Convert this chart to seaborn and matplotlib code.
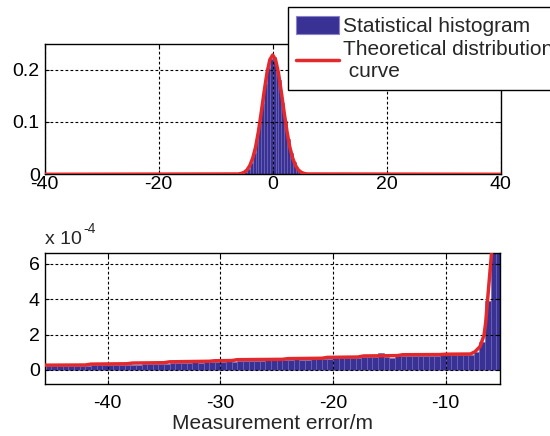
"""Measurement error histogram vs theoretical curve (full range + left tail)."""

import matplotlib

matplotlib.use("Agg")
import matplotlib.pyplot as plt
from matplotlib.lines import Line2D
from matplotlib.patches import Patch
from matplotlib.ticker import FuncFormatter
import numpy as np
import seaborn as sns

BAR_BLUE = "#3a3194"
BAR_EDGE = "#6c64b6"
CURVE_RED = "#e3292b"

# ---------------------------------------------------------------------------
# data
# ---------------------------------------------------------------------------
# top panel: histogram over the central part (bin width 0.5)
top_centers = [-5.75, -5.25, -4.75, -4.25, -3.75, -3.25, -2.75, -2.25,
               -1.75, -1.25, -0.75, -0.25, 0.25, 0.75, 1.25, 1.75,
               2.25, 2.75, 3.25, 3.75, 4.25, 4.75, 5.25, 5.75]
top_density = [0.001, 0.002, 0.005, 0.011, 0.022, 0.040, 0.064, 0.098,
               0.135, 0.172, 0.203, 0.221, 0.224, 0.206, 0.180, 0.136,
               0.101, 0.067, 0.040, 0.023, 0.012, 0.006, 0.002, 0.001]

# top panel: theoretical distribution curve
top_curve_x = [-40, -6, -5.5, -5, -4.5, -4, -3.5, -3, -2.5, -2, -1.5, -1, -0.5,
               0, 0.5, 1, 1.5, 2, 2.5, 3, 3.5, 4, 4.5, 5, 5.5, 6, 40]
top_curve_y = [0.0, 0.0006, 0.0016, 0.0038, 0.0083, 0.017, 0.031, 0.052, 0.082,
               0.119, 0.158, 0.194, 0.219, 0.228, 0.219, 0.194, 0.158, 0.119,
               0.082, 0.052, 0.031, 0.017, 0.0083, 0.0038, 0.0016, 0.0006, 0.0]

# bottom panel: left tail, bin width 0.5, values in units of 1e-4
tail_centers = np.arange(-45.25, -5.0, 0.5)
tail_density_e4 = [
    0.21, 0.22, 0.21, 0.22, 0.23, 0.22, 0.23, 0.22, 0.27, 0.26,
    0.27, 0.28, 0.27, 0.28, 0.29, 0.30, 0.29, 0.33, 0.34, 0.35,
    0.34, 0.36, 0.41, 0.40, 0.42, 0.41, 0.43, 0.42, 0.55, 0.45,
    0.46, 0.45, 0.58, 0.47, 0.50, 0.51, 0.52, 0.51, 0.53, 0.55,
    0.68, 0.56, 0.55, 0.57, 0.70, 0.58, 0.59, 0.60, 0.61, 0.60,
    0.64, 0.65, 0.66, 0.65, 0.67, 0.66, 0.72, 0.73, 0.72, 0.93,
    0.76, 0.70, 0.78, 0.79, 0.80, 0.79, 0.80, 0.81, 0.80, 0.81,
    0.93, 0.82, 0.83, 0.82, 0.84, 0.86, 1.00, 1.60, 3.90, 7.00,
    7.50,
]

# bottom panel: theoretical curve (units of 1e-4)
tail_curve_x = [-45.6, -42.0, -41.5, -38.3, -37.8, -35.0, -34.5, -31.0, -30.5,
                -29.0, -28.5, -24.5, -24.0, -21.0, -20.5, -17.8, -17.3, -14.3,
                -13.8, -10.5, -10.0, -7.8, -7.4, -6.95, -6.6, -6.45, -6.3,
                -6.1, -5.9]
tail_curve_e4 = [0.27, 0.28, 0.33, 0.35, 0.39, 0.41, 0.46, 0.49, 0.52,
                 0.53, 0.58, 0.60, 0.64, 0.66, 0.71, 0.73, 0.79, 0.81,
                 0.86, 0.87, 0.89, 0.90, 1.03, 1.32, 1.95, 2.65, 3.80,
                 5.30, 6.80]

SCALE = 1e-4

W, H = 550, 436


def style_axes(ax, xpad, ypad):
    ax.set_axisbelow(False)
    ax.grid(True, color="black", linestyle=(0, (2.5, 2)), linewidth=0.8)
    ax.tick_params(direction="in", length=3, width=0.8, top=True, right=True,
                   labelsize=14, colors="black")
    ax.tick_params(axis="x", pad=xpad)
    ax.tick_params(axis="y", pad=ypad)
    for sp in ax.spines.values():
        sp.set_visible(True)
        sp.set_color("black")
        sp.set_linewidth(1.0)
    ax.set_xlabel("")
    ax.set_ylabel("")


def main():
    sns.set_theme(style="ticks")
    plt.rcParams["font.family"] = ["Liberation Sans", "DejaVu Sans"]
    plt.rcParams["axes.unicode_minus"] = False

    fig = plt.figure(figsize=(W / 100, H / 100), dpi=100)
    fig.patch.set_facecolor("white")

    # ---------------- top panel ----------------
    ax1 = fig.add_axes([44.7 / W, 1 - 174.3 / H, 456 / W, 130.3 / H])
    sns.histplot(x=top_centers, weights=top_density, binwidth=0.5,
                 binrange=(-6, 6), stat="count", color=BAR_BLUE,
                 edgecolor=BAR_EDGE, linewidth=0.4, alpha=1, ax=ax1)
    sns.lineplot(x=top_curve_x, y=top_curve_y, color=CURVE_RED, linewidth=2.5,
                 ax=ax1, zorder=3)
    ax1.set_xlim(-40, 40)
    ax1.set_ylim(0, 0.249)
    ax1.set_xticks([-40, -20, 0, 20, 40])
    ax1.set_yticks([0, 0.1, 0.2])
    ax1.yaxis.set_major_formatter(FuncFormatter(lambda v, p: f"{v:g}"))
    style_axes(ax1, xpad=1.5, ypad=3.5)

    # ---------------- bottom panel ----------------
    ax2 = fig.add_axes([44.7 / W, 1 - 384.3 / H, 455.6 / W, 131 / H])
    sns.histplot(x=tail_centers, weights=np.array(tail_density_e4) * SCALE,
                 binwidth=0.5, binrange=(-45.5, -5.0), stat="count",
                 color=BAR_BLUE, edgecolor=BAR_EDGE, linewidth=0.4, alpha=1,
                 ax=ax2)
    sns.lineplot(x=tail_curve_x, y=np.array(tail_curve_e4) * SCALE,
                 color=CURVE_RED, linewidth=2.5, ax=ax2, zorder=3)
    ax2.set_xlim(-45.6, -5.15)
    ax2.set_ylim(-0.81 * SCALE, 6.59 * SCALE)
    ax2.set_xticks([-40, -30, -20, -10])
    ax2.set_yticks(np.array([0, 2, 4, 6]) * SCALE)
    ax2.yaxis.set_major_formatter(FuncFormatter(lambda v, p: f"{v / SCALE:.0f}"))
    style_axes(ax2, xpad=8, ypad=3.5)
    ax2.set_xlabel("Measurement error/m", fontsize=15, labelpad=1)

    # exponent label
    fig.text(45 / W, 1 - 244.3 / H, "x 10", fontsize=14, ha="left", va="baseline")
    fig.text(83 / W, 1 - 233 / H, "-4", fontsize=10, ha="left", va="baseline")

    # legend (runs off the right edge like the original)
    handles = [
        Patch(facecolor=BAR_BLUE, edgecolor="#8a82cc", linewidth=0.8),
        Line2D([], [], color=CURVE_RED, linewidth=2.5),
    ]
    labels = ["Statistical histogram", "Theoretical distribution\n curve"]
    leg = fig.legend(handles, labels, loc="upper left",
                     bbox_to_anchor=(287.5 / W, 1 - 7.3 / H),
                     bbox_transform=fig.transFigure, fontsize=15,
                     frameon=True, fancybox=False, edgecolor="black",
                     framealpha=1, borderpad=0.4, labelspacing=0.2,
                     handlelength=2.07, handleheight=1.0, handletextpad=0.2,
                     borderaxespad=0)
    leg.get_frame().set_linewidth(1.0)

    fig.savefig("out.png", dpi=100)
    plt.close(fig)


if __name__ == "__main__":
    main()
